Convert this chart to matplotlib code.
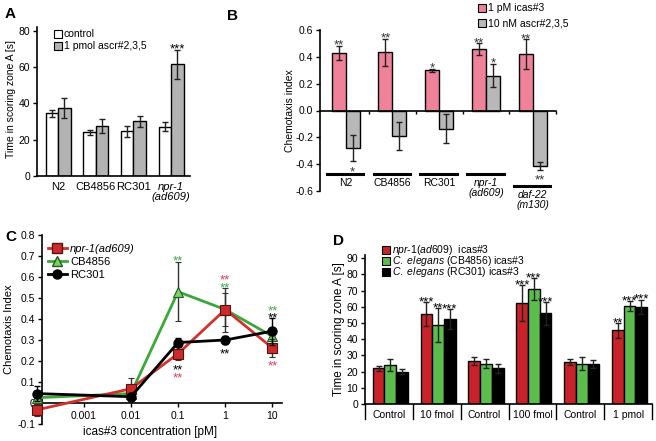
import numpy as np
import matplotlib.pyplot as plt
import matplotlib.transforms as mtransforms
from matplotlib.patches import Rectangle
from matplotlib.lines import Line2D

plt.rcParams['font.family'] = ['Liberation Sans', 'DejaVu Sans']
plt.rcParams['font.size'] = 7.5
plt.rcParams['mathtext.fontset'] = 'custom'
plt.rcParams['mathtext.rm'] = 'Liberation Sans'
plt.rcParams['mathtext.it'] = 'Liberation Sans:italic'

# ---------------- data ----------------
# Panel A
a_strains = ["N2", "CB4856", "RC301", "npr-1\n(ad609)"]
a_control = [34.5, 24, 24.5, 27]
a_control_err = [2, 1.5, 3, 2.5]
a_ascr = [37.5, 27.5, 30, 61.5]
a_ascr_err = [5.5, 4, 3, 8]
a_sig = ["", "", "", "***"]

# Panel B
b_strains = ["N2", "CB4856", "RC301", "npr-1\n(ad609)", "daf-22\n(m130)"]
b_icas = [0.43, 0.435, 0.30, 0.455, 0.42]
b_icas_err = [0.05, 0.10, 0.01, 0.045, 0.11]
b_ascr = [-0.28, -0.19, -0.135, 0.26, -0.415]
b_ascr_err = [0.10, 0.105, 0.11, 0.085, 0.03]
b_icas_sig = ["**", "**", "*", "**", "**"]
b_ascr_sig = ["*", "", "", "*", "**"]

# Panel C
c_conc = [1e-4, 0.01, 0.1, 1, 10]
c_npr = [-0.033, 0.068, 0.235, 0.445, 0.262]
c_npr_err = [0.03, 0.05, 0.03, 0.105, 0.045]
c_cb = [0.025, 0.045, 0.53, 0.445, 0.318]
c_cb_err = [0.03, 0.03, 0.14, 0.08, 0.03]
c_rc = [0.045, 0.03, 0.288, 0.30, 0.342]
c_rc_err = [0.035, 0.02, 0.02, 0.02, 0.065]

# Panel D
d_groups = ["Control", "10 fmol", "Control", "100 fmol", "Control", "1 pmol"]
d_npr = [22, 55.5, 26.5, 62.5, 26, 45.5]
d_npr_err = [1.5, 7.5, 2.5, 11, 2, 4.5]
d_cb = [24, 48.5, 25, 71, 25, 60.5]
d_cb_err = [3.5, 10.5, 2.5, 6.5, 4, 3]
d_rc = [20, 52.5, 22, 56, 24.5, 60]
d_rc_err = [1.5, 6, 3, 7, 2.5, 4.5]
d_npr_sig = ["", "***", "", "***", "", "**"]
d_cb_sig = ["", "**", "", "***", "", "***"]
d_rc_sig = ["", "***", "", "***", "", "***"]

fig = plt.figure(figsize=(6.56, 4.41), dpi=100)
STAR_FS = 9.5


def fx(px):
    return px / 656


def fy(py):
    return 1 - py / 441


def stars(ax, x, y, s, color="black", below=False, gap=3):
    # y is the end of the error bar; glyph centre sits gap+2 px beyond it
    if not s:
        return
    centre = (gap + 2) * 0.72
    if below:
        centre = -centre
    tr = mtransforms.offset_copy(ax.transData, fig=fig, y=centre - STAR_FS * 0.58,
                                 units="points")
    ax.text(x, y, s, ha="center", va="baseline", fontsize=STAR_FS, color=color,
            transform=tr, clip_on=False)


def key(px, py, color, label):
    # square legend key drawn in figure pixels
    fig.patches.append(Rectangle((fx(px), fy(py + 4)), fx(8), fy(py - 4) - fy(py + 4),
                                 transform=fig.transFigure, facecolor=color,
                                 edgecolor="black", lw=0.8))
    fig.text(fx(px + 10), fy(py), label, va="center", ha="left")


def style_axes(ax):
    for sp in ["top", "right"]:
        ax.spines[sp].set_visible(False)
    for sp in ["left", "bottom"]:
        ax.spines[sp].set_linewidth(1.2)
    ax.tick_params(axis="y", length=3, width=1, pad=2)


err_kw = dict(elinewidth=1, capthick=1, ecolor="#222222")

# =========================
# Panel A
# =========================
axA = fig.add_axes([fx(37), fy(176), fx(153), fy(27) - fy(176)])
x = np.arange(len(a_strains))
w = 0.33
axA.bar(x - w / 2, a_control, w, color="white", edgecolor="black", lw=1,
        yerr=a_control_err, capsize=2, error_kw=err_kw)
axA.bar(x + w / 2, a_ascr, w, color="#b3b3b3", edgecolor="black", lw=1,
        yerr=a_ascr_err, capsize=2, error_kw=err_kw)
for i, s in enumerate(a_sig):
    stars(axA, x[i] + w / 2, a_ascr[i] + a_ascr_err[i], s)
axA.set_xlim(-0.56, 3.5)
axA.set_ylim(0, 82)
axA.set_yticks([0, 20, 40, 60, 80])
axA.set_xticks(x)
axA.set_xticklabels(a_strains, fontsize=8, linespacing=1.0)
axA.get_xticklabels()[3].set_fontstyle("italic")
axA.tick_params(axis="x", length=0, pad=4)
style_axes(axA)
axA.set_ylabel("Time in scoring zone A [s]", fontsize=7.5)
axA.yaxis.set_label_coords(-0.135, 0.52)
key(54, 34, "white", "control")
key(54, 46, "#b3b3b3", "1 pmol ascr#2,3,5")

# =========================
# Panel B
# =========================
axB = fig.add_axes([fx(320), fy(191), fx(236), fy(30) - fy(191)])
x = np.arange(len(b_strains))
w = 0.30
axB.bar(x - w / 2, b_icas, w, color="#ef8199", edgecolor="black", lw=1,
        yerr=b_icas_err, capsize=2, error_kw=err_kw)
axB.bar(x + w / 2, b_ascr, w, color="#b8b8b8", edgecolor="black", lw=1,
        yerr=b_ascr_err, capsize=2, error_kw=err_kw)
for i in range(len(b_strains)):
    stars(axB, x[i] - w / 2, b_icas[i] + b_icas_err[i], b_icas_sig[i], color="#333333")
    if b_ascr[i] > 0:
        stars(axB, x[i] + w / 2, b_ascr[i] + b_ascr_err[i], b_ascr_sig[i], color="#333333")
    else:
        stars(axB, x[i] + w / 2, b_ascr[i] - b_ascr_err[i], b_ascr_sig[i],
              color="#333333", below=True, gap=4)
axB.set_xlim(-0.55, 4.5)
axB.set_ylim(-0.6, 0.6)
b_ticks = [0.6, 0.4, 0.2, 0.0, -0.2, -0.4, -0.6]
axB.set_yticks(b_ticks)
axB.set_yticklabels(["%.1f" % v for v in b_ticks])
axB.spines["bottom"].set_position(("data", 0))
axB.set_xticks(x + 0.5)
axB.set_xticklabels([])
axB.tick_params(axis="x", length=2.5, width=1, direction="out")
style_axes(axB)
axB.set_ylabel("Chemotaxis index", fontsize=7.5)
axB.yaxis.set_label_coords(-0.105, 0.5)
for i, name in enumerate(b_strains):
    ly = -0.47 if i < 4 else -0.565
    axB.plot([i - 0.4, i + 0.38], [ly, ly], color="black", lw=2.2, clip_on=False)
    axB.text(i, ly - 0.03, name, ha="center", va="top", fontsize=7.5,
             style="italic" if "\n" in name else "normal", linespacing=1.0,
             clip_on=False)
key(478, 8, "#ef8199", "1 pM icas#3")
key(478, 23, "#b8b8b8", "10 nM ascr#2,3,5")

# =========================
# Panel C
# =========================
axC = fig.add_axes([fx(42), fy(424), fx(240), fy(235) - fy(424)])
red, green = "#d2312e", "#3aa93a"
axC.errorbar(c_conc, c_cb, yerr=c_cb_err, color=green, lw=2, marker="^", ms=7,
             mfc="#7ccf6a", mec="#1f5f1f", mew=0.8, capsize=2, elinewidth=1,
             ecolor="#333333", clip_on=False, zorder=3)
axC.errorbar(c_conc, c_npr, yerr=c_npr_err, color=red, lw=2, marker="s", ms=6.5,
             mfc="#cc2b2b", mec="#5a1010", mew=0.8, capsize=2, elinewidth=1,
             ecolor="#333333", clip_on=False, zorder=4)
axC.errorbar(c_conc, c_rc, yerr=c_rc_err, color="black", lw=2, marker="o", ms=6.5,
             capsize=2, elinewidth=1, clip_on=False, zorder=5)
axC.set_xscale("log")
axC.set_xlim(1.3e-4, 16)
axC.set_ylim(-0.1, 0.8)
axC.spines["bottom"].set_position(("data", 0))
axC.set_xticks([0.001, 0.01, 0.1, 1, 10])
axC.set_xticklabels(["0.001", "0.01", "0.1", "1", "10"])
axC.xaxis.set_minor_locator(plt.NullLocator())
axC.tick_params(axis="x", length=3, width=1, pad=3)
axC.set_yticks(np.arange(-0.1, 0.81, 0.1))
axC.set_yticklabels(["-0.1", "0", "0.1", "0.2", "0.3", "0.4", "0.5", "0.6", "0.7", "0.8"])
style_axes(axC)
axC.set_ylabel("Chemotaxis Index", fontsize=8)
axC.yaxis.set_label_coords(-0.115, 0.5)
axC.text(0.45, -0.042, "icas#3 concentration [pM]", transform=axC.transAxes,
         ha="center", va="center", fontsize=8.5)
sig_red, sig_green = "#d6405a", "#3aa84a"
# significance marks: (concentration, glyph centre, text, colour)
c_marks = [(0.1, 0.694, "**", sig_green), (0.1, 0.178, "**", "black"),
           (0.1, 0.141, "**", sig_red), (1, 0.605, "**", sig_red),
           (1, 0.567, "**", sig_green), (1, 0.252, "**", "black"),
           (10, 0.459, "**", sig_green), (10, 0.424, "**", "black"),
           (10, 0.197, "**", sig_red)]
tr_c = mtransforms.offset_copy(axC.transData, fig=fig, y=-STAR_FS * 0.58, units="points")
for cx, cy, s, col in c_marks:
    axC.text(cx, cy, s, ha="center", va="baseline", fontsize=STAR_FS, color=col,
             transform=tr_c)
h_npr = Line2D([], [], color=red, lw=2, marker="s", ms=6.5, mfc="#cc2b2b", mec="#5a1010")
h_cb = Line2D([], [], color=green, lw=2, marker="^", ms=7, mfc="#7ccf6a", mec="#1f5f1f")
h_rc = Line2D([], [], color="black", lw=2, marker="o", ms=6.5)
legC = axC.legend([h_npr, h_cb, h_rc], ["npr-1(ad609)", "CB4856", "RC301"],
                  loc="upper left", bbox_to_anchor=(0.025, 0.955), frameon=False,
                  borderpad=0, borderaxespad=0, handlelength=1.7, handletextpad=0.3,
                  labelspacing=0.3, fontsize=8)
legC.get_texts()[0].set_fontstyle("italic")

# =========================
# Panel D
# =========================
axD = fig.add_axes([fx(365), fy(404), fx(287), fy(255) - fy(404)])
x = np.arange(len(d_groups))
w = 0.245
d_series = [(d_npr, d_npr_err, d_npr_sig, "#c8232b"),
            (d_cb, d_cb_err, d_cb_sig, "#5cbd4c"),
            (d_rc, d_rc_err, d_rc_sig, "black")]
for k, (vals, errs, sigs, col) in enumerate(d_series):
    xs = x + 0.03 + (k - 1) * w
    axD.bar(xs, vals, w, color=col, edgecolor="black", lw=1,
            yerr=errs, capsize=2, error_kw=err_kw)
    for i, s in enumerate(sigs):
        stars(axD, xs[i], vals[i] + errs[i], s, gap=2.5)
axD.set_xlim(-0.5, 5.5)
axD.set_ylim(0, 92)
axD.set_yticks(np.arange(0, 91, 10))
axD.set_xticks(x)
axD.set_xticklabels(d_groups, fontsize=7.5)
axD.tick_params(axis="x", length=0, pad=4)
trans = mtransforms.blended_transform_factory(axD.transData, axD.transAxes)
for b in np.arange(-0.5, 5.6, 1.0):
    axD.plot([b, b], [0, -0.1], color="black", lw=1, transform=trans, clip_on=False)
style_axes(axD)
axD.set_ylabel("Time in scoring zone A [s]", fontsize=8.5)
axD.yaxis.set_label_coords(-0.07, 0.5)
key(382, 250, "#c8232b", r"$\mathit{npr}$-$\mathit{1(ad609)}$  icas#3")
key(382, 261, "#5cbd4c", r"$\mathit{C.\ elegans}$ (CB4856) icas#3")
key(382, 272, "black", r"$\mathit{C.\ elegans}$ (RC301) icas#3")

# panel letters
for lx, ly, lab in [(5, 18, "A"), (227, 20, "B"), (5, 241, "C"), (333, 245, "D")]:
    fig.text(fx(lx), fy(ly), lab, fontsize=11, fontweight="bold", va="baseline")

fig.savefig("out.png", dpi=100)
